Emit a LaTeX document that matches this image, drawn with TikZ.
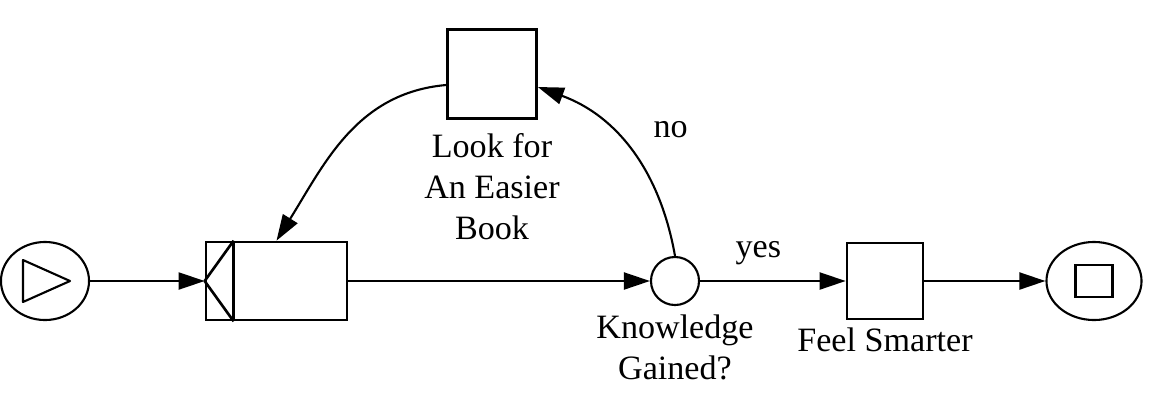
\documentclass[tikz,border=0pt]{standalone}
\usepackage{fontspec}
\setmainfont{Liberation Serif}
\usetikzlibrary{shapes.geometric, arrows.meta, positioning, calc}

\begin{document}
\begin{tikzpicture}[
    x=0.01cm, y=0.01cm,
    font=\fontsize{9.7}{11.7}\selectfont,
    task/.style={rectangle, draw, line width=0.75pt, minimum width=0.76cm, minimum height=0.76cm, inner sep=0pt},
    event/.style={ellipse, draw, line width=0.6pt, minimum width=0.9cm, minimum height=0.78cm, inner sep=0pt},
    flow/.style={-{Triangle[length=0.26cm, width=0.17cm]}, line width=0.6pt},
    caption/.style={align=center, inner sep=0pt}
]
\useasboundingbox (0,0) rectangle (1151,405);

% Events
\node[event, minimum width=0.88cm] (start) at (45,124) {};
\draw[line width=0.6pt, line join=round] ($(start.center)+(-22,21)$) -- ($(start.center)+(25,0)$) -- ($(start.center)+(-22,-21)$) -- cycle;
\node[event, minimum width=0.95cm] (end) at (1094,124) {};
\node[rectangle, draw, line width=0.75pt, minimum width=0.37cm, minimum height=0.32cm] (endmark) at (end.center) {};

% Tasks
\node[task, minimum width=1.41cm, minimum height=0.78cm] (read) at (276.5,124) {};
\draw[line width=0.75pt] ([xshift=0.29cm]read.north west) -- ([xshift=0.29cm]read.south west);
\draw[line width=0.75pt, line join=round] ([xshift=0.29cm]read.north west) -- (read.west) -- ([xshift=0.29cm]read.south west);
\node[task, minimum width=0.89cm, minimum height=0.89cm, label={[caption, label distance=0.13cm]below:Look for\\An Easier\\Book}] (easier) at (492,331) {};
\node[task, label={[caption, label distance=0.07cm]below:Feel Smarter}] (smarter) at (885,124) {};

% Decision
\node[circle, draw, line width=0.6pt, minimum size=0.48cm, inner sep=0pt, label={[caption, label distance=0.08cm]below:Knowledge\\Gained?}] (gained) at (675,124) {};

% Connections
\draw[flow] (start) -- (read);
\draw[flow] (read) -- (gained);
\draw[flow] (gained) -- node[pos=0.4, above=0.03cm] (yes) {yes} (smarter);
\draw[flow] (smarter) -- (end);
\draw[flow] (gained.north) to[out=100, in=-20] node[pos=0.55, above right=-0.08cm and 0.17cm] (no) {no} ([yshift=-0.13cm]easier.east);
\draw[flow] ([yshift=-0.11cm]easier.west) to[out=185, in=58] (read.north);
\end{tikzpicture}
\end{document}
